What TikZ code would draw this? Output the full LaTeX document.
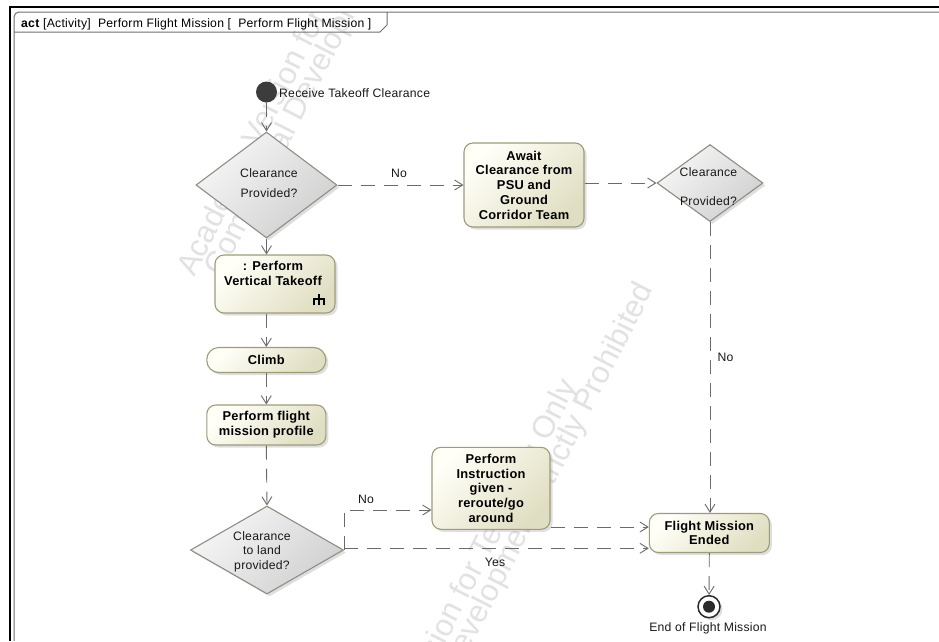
\documentclass[tikz,border=0pt]{standalone}
\usepackage{fontspec}
\setmainfont{Liberation Sans}[LetterSpace=2]
\newfontfamily\wmfont{Liberation Sans}
\usetikzlibrary{arrows.meta,shapes.geometric,shadows,calc}
\definecolor{actline}{HTML}{9E9C78}
\definecolor{acttop}{HTML}{FFFFF8}
\definecolor{actbot}{HTML}{E0DEC2}
\definecolor{decline}{HTML}{8E8E84}
\definecolor{dectop}{HTML}{F6F6F6}
\definecolor{decbot}{HTML}{D0D0D0}
\definecolor{flowc}{HTML}{6A6A6A}
\definecolor{framec}{HTML}{707070}
\definecolor{wmc}{HTML}{E2E2E2}
\definecolor{initc}{HTML}{3C3C3C}
\definecolor{finc}{HTML}{2A2A2A}
\tikzset{
  rfont/.style={font=\fontsize{12.2}{14.5}\selectfont},
  bfont/.style={font=\fontsize{12.85}{14.7}\selectfont\bfseries},
  myshadow/.style={drop shadow={shadow xshift=2.5pt,shadow yshift=-2.5pt,opacity=0.25}},
  action/.style={draw=actline,line width=1.1pt,rounded corners=9pt,
    top color=acttop,bottom color=actbot,shading angle=45,myshadow,
    inner sep=0pt,align=center,bfont,text=black},
  decision/.style={diamond,draw=decline,line width=1.1pt,
    top color=dectop,bottom color=decbot,shading angle=45,myshadow,inner sep=0pt},
  lbl/.style={rfont,inner sep=0pt,text=black!90},
  flow/.style={draw=flowc,line width=0.9pt,dash pattern=on 14pt off 9pt,
    -{Straight Barb[length=8pt,width=10pt]}},
  wm/.style={font=\wmfont\fontsize{31}{31}\selectfont,text=wmc,rotate=63,inner sep=0pt},
}
\begin{document}
\begin{tikzpicture}[x=1pt,y=-1pt]
\useasboundingbox (0,0) rectangle (939,641);
\fill[white] (0,0) rectangle (939,641);
% watermark
\begin{scope}
  \clip (14,12) rectangle (939,641);
  \node[wm] (wm1a) at (300,52) {Academic Version for Teaching Only};
  \node[wm] (wm1b) at (352,4) {Commercial Development Strictly Prohibited};
  \node[wm] (wm2a) at (457,604) {Academic Version for Teaching Only};
  \node[wm] (wm2b) at (509,556) {Commercial Development Strictly Prohibited};
\end{scope}
% frame
\draw[black,line width=2pt] (10,641) -- (10,7) -- (939,7);
\draw[framec,line width=1pt,rounded corners=5pt] (14,641) -- (14,12) -- (939,12);
\draw[framec,line width=1pt] (14,32) -- (380,32) -- (387,25) -- (387,12);
\node[anchor=base west,inner sep=0pt,rfont] (hdr) at (21,27)
  {\textbf{act} [Activity]~~Perform Flight Mission [~~Perform Flight Mission ]};
% nodes
\node[circle,fill=initc,minimum size=21pt,inner sep=0pt] (init) at (266.5,92) {};
\node[lbl,anchor=west] (initlbl) at (279,93.5) {Receive Takeoff Clearance};
\node[decision,minimum width=141pt,minimum height=106pt] (d1) at (266.5,185) {};
\node[lbl,align=center,font=\fontsize{12.2}{20}\selectfont] (d1t) at (269,183) {Clearance\\Provided?};
\node[action,minimum width=120pt,minimum height=84pt] (await) at (524,185)
  {Await\\Clearance from\\PSU and\\Ground\\Corridor Team};
\node[decision,minimum width=106pt,minimum height=77pt] (d2) at (710,183) {};
\node[lbl,align=center,font=\fontsize{12.2}{29}\selectfont] (d2t) at (708.5,187) {Clearance\\Provided?};
\node[action,minimum width=120pt,minimum height=58pt] (vt) at (275,284) {};
\node[lbl,bfont,align=center,text=black] (vtt) at (273,273.5) {: Perform\\Vertical Takeoff};
\draw[black,line width=1.3pt] (319,294) -- (319,305) (314,305) -- (314,299) -- (324,299) -- (324,305);
\node[action,minimum width=119pt,minimum height=25pt,rounded corners=12pt] (climb) at (266.3,360) {Climb};
\node[action,minimum width=119pt,minimum height=40pt] (pfmp) at (266.3,425) {Perform flight\\mission profile};
\node[decision,minimum width=153pt,minimum height=88pt] (d3) at (267,550) {};
\node[lbl,align=center] (d3t) at (262,551.5) {Clearance\\to land\\provided?};
\node[action,minimum width=118pt,minimum height=82pt] (pi) at (491,488.3)
  {Perform\\Instruction\\given -\\reroute/go\\around};
\node[action,minimum width=120pt,minimum height=39pt] (fme) at (709.3,533) {Flight Mission\\Ended};
\node[circle,draw=finc,line width=1.5pt,fill=white,minimum size=22pt,inner sep=0pt,myshadow] (final) at (709,606.7) {};
\node[circle,fill=finc,minimum size=12pt,inner sep=0pt] (finalin) at (final) {};
\node[lbl] (finlbl) at (708,628.5) {End of Flight Mission};
% flows
\draw[flow] (init) -- (d1.north);
\draw[flow] (d1.south) -- (d1.south |- vt.north);
\draw[flow] (d1.east) -- (await.west |- d1.east);
\node[lbl] (no1) at (399,173) {No};
\draw[flow] (await.east |- d2.west) -- (d2.west);
\draw[flow] (d2.south) -- (d2.south |- fme.north);
\node[lbl] (no2) at (725.5,357) {No};
\draw[flow] (vt.south -| climb.north) -- (climb.north);
\draw[flow] (climb.south) -- (pfmp.north);
\draw[flow] (pfmp.south) -- (d3.north);
\coordinate (noend) at ([yshift=-21.7pt]pi.west);
\draw[flow] (d3.east) |- (noend);
\node[lbl] (no3) at (366,499) {No};
\coordinate (yesend) at ([yshift=-15.3pt]fme.west);
\draw[flow] (d3.east |- yesend) -- (yesend);
\node[lbl] (yes) at (495,562) {Yes};
\coordinate (piend) at ([yshift=6pt]fme.west);
\draw[flow] (pi.east |- piend) -- (piend);
\draw[flow] (fme.south) -- (final);
\end{tikzpicture}
\end{document}
